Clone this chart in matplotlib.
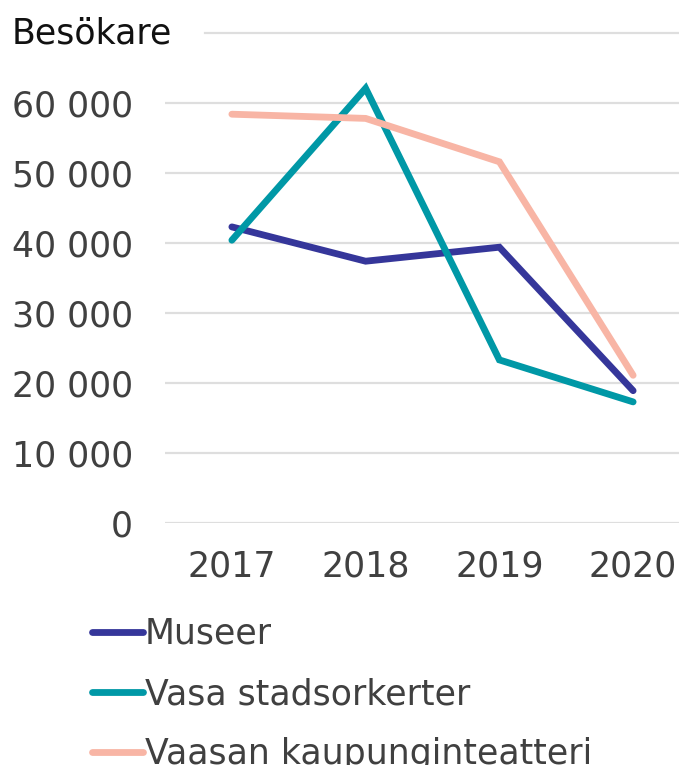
import matplotlib
matplotlib.use("Agg")
import matplotlib.pyplot as plt

years = ["2017", "2018", "2019", "2020"]
museer = [42300, 37400, 39400, 18900]
orkester = [40400, 62100, 23300, 17300]
teater = [58400, 57800, 51600, 21100]
series_names = ["Museer", "Vasa stadsorkerter", "Vaasan kaupunginteatteri"]
yticks = [0, 10000, 20000, 30000, 40000, 50000, 60000]
ytick_labels = ["0", "10 000", "20 000", "30 000", "40 000", "50 000", "60 000"]

colors = ["#35369A", "#0098A6", "#F8B5A5"]
FONT = ["DejaVu Sans"]
plt.rcParams["font.family"] = FONT
FS = 25

W, H = 679, 765
fig = plt.figure(figsize=(W / 100, H / 100), dpi=100)
left, right, top, bottom = 165, 700, 33, 523
ax = fig.add_axes([left / W, 1 - bottom / H, (right - left) / W, (bottom - top) / H])

x = list(range(len(years)))
for vals, c, name in zip([museer, orkester, teater], colors, series_names):
    ax.plot(x, vals, color=c, lw=4.9, solid_capstyle="round", solid_joinstyle="miter", label=name, zorder=3)

ax.set_xlim(-0.5, 3.5)
ax.set_ylim(0, 70000)
for v in yticks:
    ax.axhline(v, color="#DEDEDE", lw=1.6, zorder=1)
ax.axhline(70000, xmin=(205 - left) / (right - left), color="#DEDEDE", lw=1.6, zorder=1, clip_on=False)

ax.set_xticks(x)
ax.set_xticklabels(years)
ax.set_yticks(yticks)
ax.set_yticklabels(ytick_labels)
ax.tick_params(axis="both", length=0, labelsize=FS, labelcolor="#404040")
ax.tick_params(axis="y", pad=23)
ax.tick_params(axis="x", pad=19)
for s in ax.spines.values():
    s.set_visible(False)

fig.text(12 / W, 1 - 33 / H, "Besökare", fontsize=FS, color="#111111", va="center", ha="left")

handles, labels = ax.get_legend_handles_labels()
leg = fig.legend(handles, labels, loc="upper left", bbox_to_anchor=(92 / W, 1 - 617 / H),
                 frameon=False, fontsize=FS, handlelength=1.47, handletextpad=0.06,
                 labelspacing=0.75, labelcolor="#404040", borderaxespad=0, borderpad=0)

fig.savefig("out.png", dpi=100)
